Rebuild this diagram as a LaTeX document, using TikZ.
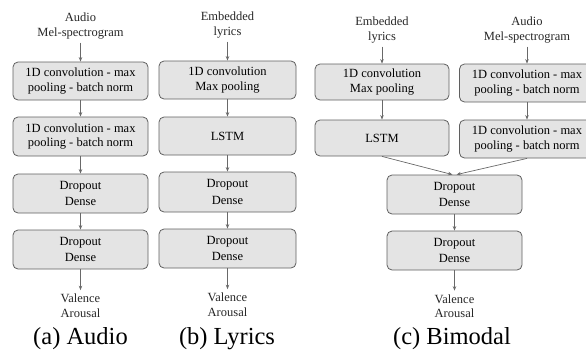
\documentclass[tikz,border=0pt]{standalone}
\usepackage{fontspec}
\setmainfont{Liberation Serif}
\usetikzlibrary{arrows.meta}
\definecolor{boxfill}{RGB}{228,228,228}
\definecolor{boxline}{RGB}{95,95,95}
\definecolor{arrcol}{RGB}{105,105,105}
\tikzset{
  blk/.style={draw=boxline, fill=boxfill, rounded corners=5pt, line width=0.8pt,
    align=center, inner sep=0pt, minimum width=135pt, minimum height=38pt,
    font=\fontsize{12.5}{14.5}\selectfont},
  lbl/.style={align=center, inner sep=3.5pt, font=\fontsize{12.5}{14.5}\selectfont, text=black!85},
  captxt/.style={anchor=base, inner sep=0pt, font=\fontsize{24.5}{28}\selectfont},
  arr/.style={draw=arrcol, line width=0.7pt, -{Stealth[length=4.5pt,width=3.5pt]}}
}
\begin{document}
\begin{tikzpicture}[x=1pt,y=1pt]
\useasboundingbox (0,0) rectangle (586,-351);
\begin{scope}
\clip (0,0) rectangle (586,-351);
% ---------- (a) Audio
\node[lbl] (aIn) at (80.5,-26) {Audio\\Mel-spectrogram};
\node[blk] (a1) at (80.5,-81) {1D convolution - max\\pooling - batch norm};
\node[blk, minimum height=39pt] (a2) at (80.5,-136.5) {1D convolution - max\\pooling - batch norm};
\node[blk, minimum height=39pt] (a3) at (80.5,-193.5) {Dropout\\[2pt]Dense};
\node[blk, minimum height=39pt] (a4) at (80.5,-249.5) {Dropout\\[2pt]Dense};
\node[lbl] (aOut) at (80.5,-305.5) {Valence\\Arousal};
\node[captxt] (aCap) at (80.5,-344.5) {(a) Audio};
\draw[arr] (aIn) -- (a1);
\draw[arr] (a1) -- (a2);
\draw[arr] (a2) -- (a3);
\draw[arr] (a3) -- (a4);
\draw[arr] (a4) -- (aOut);
% ---------- (b) Lyrics
\node[lbl] (bIn) at (227.5,-25) {Embedded\\lyrics};
\node[blk, minimum width=137pt] (b1) at (227.5,-80) {1D convolution\\Max pooling};
\node[blk, minimum width=137pt] (b2) at (227.5,-136) {LSTM};
\node[blk, minimum width=137pt, minimum height=40pt] (b3) at (227.5,-192) {Dropout\\[2pt]Dense};
\node[blk, minimum width=137pt, minimum height=39pt] (b4) at (227.5,-248.5) {Dropout\\[2pt]Dense};
\node[lbl] (bOut) at (227.5,-304.5) {Valence\\Arousal};
\node[captxt] (bCap) at (227,-344.5) {(b) Lyrics};
\draw[arr] (bIn) -- (b1);
\draw[arr] (b1) -- (b2);
\draw[arr] (b2) -- (b3);
\draw[arr] (b3) -- (b4);
\draw[arr] (b4) -- (bOut);
% ---------- (c) Bimodal
\node[lbl] (clIn) at (382,-30) {Embedded\\lyrics};
\node[lbl] (crIn) at (527,-30) {Audio\\Mel-spectrogram};
\node[blk, minimum width=134pt, minimum height=36pt] (cl1) at (382,-82) {1D convolution\\Max pooling};
\node[blk, minimum width=134pt, minimum height=36pt] (cl2) at (382,-138) {LSTM};
\node[blk, minimum height=38pt] (cr1) at (527,-83) {1D convolution - max\\pooling - batch norm};
\node[blk, minimum height=38pt] (cr2) at (527,-139) {1D convolution - max\\pooling - batch norm};
\node[blk, minimum height=39pt] (cd1) at (454.5,-194.5) {Dropout\\[2pt]Dense};
\node[blk, minimum height=39pt] (cd2) at (454.5,-250.5) {Dropout\\[2pt]Dense};
\node[lbl] (cOut) at (454.5,-306) {Valence\\Arousal};
\node[captxt] (cCap) at (452,-344.5) {(c) Bimodal};
\draw[arr] (clIn) -- (cl1);
\draw[arr] (cl1) -- (cl2);
\draw[arr] (crIn) -- (cr1);
\draw[arr] (cr1) -- (cr2);
\draw[arr] (cl2.south) -- ([xshift=-2pt]cd1.north);
\draw[arr] (cr2.south) -- ([xshift=2pt]cd1.north);
\draw[arr] (cd1) -- (cd2);
\draw[arr] (cd2) -- (cOut);
\end{scope}
\end{tikzpicture}
\end{document}
